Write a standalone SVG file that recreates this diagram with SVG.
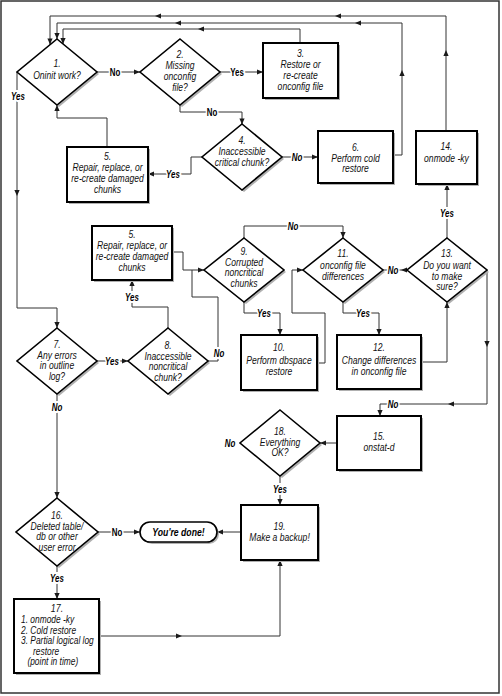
<svg xmlns="http://www.w3.org/2000/svg" xmlns:xlink="http://www.w3.org/1999/xlink" width="502" height="696" viewBox="0 0 502 696">
<style>
.frame{fill:#fff;stroke:#333;stroke-width:1.5}
.box{fill:#fff;stroke:#000;stroke-width:2}
.dia{fill:#fff;stroke:#000;stroke-width:1.6}
.sh{fill:#b0b0b0;stroke:none}
.c{fill:none;stroke:#333;stroke-width:1}
.ah{fill:#1a1a1a}
.t{font-family:"Liberation Sans",Arial,sans-serif;font-style:italic;font-size:11px;text-anchor:middle;fill:#111}
.tl{font-family:"Liberation Sans",Arial,sans-serif;font-style:italic;font-size:10.5px;text-anchor:start;fill:#111}
.l{font-family:"Liberation Sans",Arial,sans-serif;font-style:italic;font-weight:bold;font-size:11px;text-anchor:middle;fill:#000;stroke:#fff;stroke-width:4;paint-order:stroke}
.lu{font-family:"Liberation Sans",Arial,sans-serif;font-weight:bold;font-size:11px;text-anchor:middle;fill:#000;stroke:#fff;stroke-width:4;paint-order:stroke}
.done{font-family:"Liberation Sans",Arial,sans-serif;font-style:italic;font-weight:bold;font-size:11px;text-anchor:middle;fill:#000}
</style>
<defs>
<path id="a" class="ah" d="M0 0 L-6 -2.6 L-6 2.6 Z"/>
</defs>
<rect class="frame" x="1" y="1" width="498" height="692"/>

<!-- connectors -->
<g id="connectors">
<path class="c" d="M446 131 V16 H50 V44.5"/>
<use xlink:href="#a" transform="translate(50 44.5) rotate(90)"/>
<use xlink:href="#a" transform="translate(446 50) rotate(-90)"/>
<use xlink:href="#a" transform="translate(335 16) rotate(180)"/>
<use xlink:href="#a" transform="translate(155 16) rotate(180)"/>

<path class="c" d="M393 155 H402 V23 H57 V39"/>
<use xlink:href="#a" transform="translate(57 39) rotate(90)"/>
<use xlink:href="#a" transform="translate(402 70) rotate(-90)"/>
<use xlink:href="#a" transform="translate(355 23) rotate(180)"/>
<use xlink:href="#a" transform="translate(175 23) rotate(180)"/>

<path class="c" d="M300 43 V29 H63 V44"/>
<use xlink:href="#a" transform="translate(63 44) rotate(90)"/>
<use xlink:href="#a" transform="translate(198 29) rotate(180)"/>

<path class="c" d="M97 72 H140"/>
<use xlink:href="#a" transform="translate(140 72)"/>
<text class="lu" transform="translate(115 76) scale(.72 1)">No</text>

<path class="c" d="M220 72 H263"/>
<use xlink:href="#a" transform="translate(263 72)"/>
<text class="lu" transform="translate(237 76) scale(.72 1)">Yes</text>

<path class="c" d="M180 105 V112 H242 V124.5"/>
<use xlink:href="#a" transform="translate(242 124.5) rotate(90)"/>
<text class="lu" transform="translate(212 116) scale(.72 1)">No</text>

<path class="c" d="M282 157 H318"/>
<use xlink:href="#a" transform="translate(318 157)"/>
<text class="l" transform="translate(297 161) scale(.72 1)">No</text>

<path class="c" d="M202 157 H191 V174 H148"/>
<use xlink:href="#a" transform="translate(148 174) rotate(180)"/>
<text class="l" transform="translate(173 178) scale(.72 1)">Yes</text>

<path class="c" d="M107 147 V118 H57 V105"/>
<use xlink:href="#a" transform="translate(57 105) rotate(-90)"/>

<path class="c" d="M17 72 V308 H57 V328"/>
<use xlink:href="#a" transform="translate(57 328) rotate(90)"/>
<use xlink:href="#a" transform="translate(17 196) rotate(90)"/>
<text class="l" transform="translate(18 100) scale(.72 1)">Yes</text>

<path class="c" d="M97 361 H128"/>
<use xlink:href="#a" transform="translate(128 361)"/>
<text class="l" transform="translate(112 365) scale(.72 1)">Yes</text>

<path class="c" d="M168 328 V307 H132 V280"/>
<use xlink:href="#a" transform="translate(132 280) rotate(-90)"/>
<text class="l" transform="translate(132 301) scale(.72 1)">Yes</text>

<path class="c" d="M172 252 H183 V270 H204"/>
<use xlink:href="#a" transform="translate(204 270)"/>

<path class="c" d="M208 361 H218 V297 H192 V270"/>
<text class="l" transform="translate(219 357) scale(.72 1)">No</text>

<path class="c" d="M244 238 V226 H343 V238"/>
<use xlink:href="#a" transform="translate(343 238) rotate(90)"/>
<text class="l" transform="translate(293 230) scale(.72 1)">No</text>

<path class="c" d="M244 302 V313 H280 V335"/>
<use xlink:href="#a" transform="translate(280 335) rotate(90)"/>
<text class="l" transform="translate(264 317) scale(.72 1)">Yes</text>

<path class="c" d="M317 363 H325 V313 H292 V270 H303"/>
<use xlink:href="#a" transform="translate(303 270)"/>

<path class="c" d="M343 302 V313 H379 V335"/>
<use xlink:href="#a" transform="translate(379 335) rotate(90)"/>
<text class="l" transform="translate(363 317) scale(.72 1)">Yes</text>

<path class="c" d="M421 362 H447 V302"/>
<use xlink:href="#a" transform="translate(447 302) rotate(-90)"/>

<path class="c" d="M407 270 H383"/>
<use xlink:href="#a" transform="translate(401 270) rotate(180)"/>
<text class="l" transform="translate(393 274) scale(.72 1)">No</text>

<path class="c" d="M447 238 V184"/>
<use xlink:href="#a" transform="translate(447 184) rotate(-90)"/>
<text class="l" transform="translate(447 217) scale(.72 1)">Yes</text>

<path class="c" d="M487 270 V404 H380 V416"/>
<use xlink:href="#a" transform="translate(380 416) rotate(90)"/>
<use xlink:href="#a" transform="translate(487 347) rotate(90)"/>
<use xlink:href="#a" transform="translate(448 404) rotate(180)"/>
<text class="l" transform="translate(393 408) scale(.72 1)">No</text>

<path class="c" d="M337 443 H320"/>
<use xlink:href="#a" transform="translate(320 443) rotate(180)"/>

<text class="l" transform="translate(230 447) scale(.72 1)">No</text>

<path class="c" d="M280 476 V505"/>
<use xlink:href="#a" transform="translate(280 505) rotate(90)"/>
<text class="l" transform="translate(280 493) scale(.72 1)">Yes</text>

<path class="c" d="M241 532 H217"/>
<use xlink:href="#a" transform="translate(217 532) rotate(180)"/>

<path class="c" d="M98 532 H140"/>
<use xlink:href="#a" transform="translate(140 532)"/>
<text class="lu" transform="translate(117 536) scale(.72 1)">No</text>

<path class="c" d="M57 394 V498"/>
<use xlink:href="#a" transform="translate(57 498) rotate(90)"/>
<text class="l" transform="translate(57 411) scale(.72 1)">No</text>

<path class="c" d="M57 566 V599"/>
<use xlink:href="#a" transform="translate(57 599) rotate(90)"/>
<text class="l" transform="translate(57 582) scale(.72 1)">Yes</text>

<path class="c" d="M99 636 H280 V560"/>
<use xlink:href="#a" transform="translate(280 560) rotate(-90)"/>
<use xlink:href="#a" transform="translate(182 636)"/>
</g>

<!-- nodes -->
<g id="n1">
<polygon class="sh" points="59,41 99,74 59,107 19,74"/>
<polygon class="dia" points="57,39 97,72 57,105 17,72"/>
<g transform="translate(57 0) scale(.78 1)"><text class="t"><tspan x="0" y="67">1.</tspan><tspan x="0" y="79">Oninit work?</tspan></text></g>
</g>
<g id="n2">
<polygon class="sh" points="182,41 222,74 182,107 142,74"/>
<polygon class="dia" points="180,39 220,72 180,105 140,72"/>
<g transform="translate(180 0) scale(.78 1)"><text class="t"><tspan x="0" y="58.5">2.</tspan><tspan x="0" y="69.3">Missing</tspan><tspan x="0" y="80.1">onconfig</tspan><tspan x="0" y="91.5">file?</tspan></text></g>
</g>
<g id="n3">
<rect class="sh" x="265" y="45" width="75" height="55"/>
<rect class="box" x="263" y="43" width="75" height="55"/>
<g transform="translate(300.5 0) scale(.78 1)"><text class="t"><tspan x="0" y="57.5">3.</tspan><tspan x="0" y="68.2">Restore or</tspan><tspan x="0" y="78.9">re-create</tspan><tspan x="0" y="89.6">onconfig file</tspan></text></g>
</g>
<g id="n4">
<polygon class="sh" points="244,126 284,159 244,192 204,159"/>
<polygon class="dia" points="242,124 282,157 242,190 202,157"/>
<g transform="translate(242 0) scale(.78 1)"><text class="t"><tspan x="0" y="144">4.</tspan><tspan x="0" y="155">Inaccessible</tspan><tspan x="0" y="166">critical chunk?</tspan></text></g>
</g>
<g id="n5a">
<rect class="sh" x="69" y="149" width="81" height="55"/>
<rect class="box" x="67" y="147" width="81" height="55"/>
<g transform="translate(107.5 0) scale(.78 1)"><text class="t"><tspan x="0" y="160.5">5.</tspan><tspan x="0" y="171.2">Repair, replace, or</tspan><tspan x="0" y="181.9">re-create damaged</tspan><tspan x="0" y="192.6">chunks</tspan></text></g>
</g>
<g id="n6">
<rect class="sh" x="320" y="133" width="75" height="52"/>
<rect class="box" x="318" y="131" width="75" height="52"/>
<g transform="translate(355.5 0) scale(.78 1)"><text class="t"><tspan x="0" y="151">6.</tspan><tspan x="0" y="161.7">Perform cold</tspan><tspan x="0" y="172.4">restore</tspan></text></g>
</g>
<g id="n14">
<rect class="sh" x="418" y="133" width="61" height="53"/>
<rect class="box" x="416" y="131" width="61" height="53"/>
<g transform="translate(446.5 0) scale(.78 1)"><text class="t"><tspan x="0" y="150">14.</tspan><tspan x="0" y="162">onmode -ky</tspan></text></g>
</g>
<g id="n5b">
<rect class="sh" x="94" y="228" width="80" height="54"/>
<rect class="box" x="92" y="226" width="80" height="54"/>
<g transform="translate(132 0) scale(.78 1)"><text class="t"><tspan x="0" y="238.5">5.</tspan><tspan x="0" y="249.2">Repair, replace, or</tspan><tspan x="0" y="259.9">re-create damaged</tspan><tspan x="0" y="270.6">chunks</tspan></text></g>
</g>
<g id="n9">
<polygon class="sh" points="246,240 286,272 246,304 206,272"/>
<polygon class="dia" points="244,238 284,270 244,302 204,270"/>
<g transform="translate(244 0) scale(.78 1)"><text class="t"><tspan x="0" y="255">9.</tspan><tspan x="0" y="265.7">Corrupted</tspan><tspan x="0" y="276.4">noncritical</tspan><tspan x="0" y="287.1">chunks</tspan></text></g>
</g>
<g id="n11">
<polygon class="sh" points="345,240 385,272 345,304 305,272"/>
<polygon class="dia" points="343,238 383,270 343,302 303,270"/>
<g transform="translate(343 0) scale(.78 1)"><text class="t"><tspan x="0" y="257.5">11.</tspan><tspan x="0" y="269">onconfig file</tspan><tspan x="0" y="279.7">differences</tspan></text></g>
</g>
<g id="n13">
<polygon class="sh" points="449,240 489,272 449,304 409,272"/>
<polygon class="dia" points="447,238 487,270 447,302 407,270"/>
<g transform="translate(447 0) scale(.78 1)"><text class="t"><tspan x="0" y="257.5">13.</tspan><tspan x="0" y="269">Do you want</tspan><tspan x="0" y="279.7">to make</tspan><tspan x="0" y="290.4">sure?</tspan></text></g>
</g>
<g id="n7">
<polygon class="sh" points="59,330 99,363 59,396 19,363"/>
<polygon class="dia" points="57,328 97,361 57,394 17,361"/>
<g transform="translate(57 0) scale(.78 1)"><text class="t"><tspan x="0" y="348">7.</tspan><tspan x="0" y="358.7">Any errors</tspan><tspan x="0" y="369.4">in outline</tspan><tspan x="0" y="380.1">log?</tspan></text></g>
</g>
<g id="n8">
<polygon class="sh" points="170,330 210,363 170,396 130,363"/>
<polygon class="dia" points="168,328 208,361 168,394 128,361"/>
<g transform="translate(168 0) scale(.78 1)"><text class="t"><tspan x="0" y="349">8.</tspan><tspan x="0" y="359.7">Inaccessible</tspan><tspan x="0" y="370.4">noncritical</tspan><tspan x="0" y="381.1">chunk?</tspan></text></g>
</g>
<g id="n10">
<rect class="sh" x="243" y="337" width="76" height="55"/>
<rect class="box" x="241" y="335" width="76" height="55"/>
<g transform="translate(279 0) scale(.78 1)"><text class="t"><tspan x="0" y="351">10.</tspan><tspan x="0" y="364.5">Perform dbspace</tspan><tspan x="0" y="375.5">restore</tspan></text></g>
</g>
<g id="n12">
<rect class="sh" x="339" y="337" width="84" height="54"/>
<rect class="box" x="337" y="335" width="84" height="54"/>
<g transform="translate(379 0) scale(.78 1)"><text class="t"><tspan x="0" y="351">12.</tspan><tspan x="0" y="364.5">Change differences</tspan><tspan x="0" y="375.5">in onconfig file</tspan></text></g>
</g>
<g id="n15">
<rect class="sh" x="339" y="418" width="84" height="54"/>
<rect class="box" x="337" y="416" width="84" height="54"/>
<g transform="translate(379 0) scale(.78 1)"><text class="t"><tspan x="0" y="440">15.</tspan><tspan x="0" y="451">onstat-d</tspan></text></g>
</g>
<g id="n18">
<polygon class="sh" points="282,412 322,445 282,478 242,445"/>
<polygon class="dia" points="280,410 320,443 280,476 240,443"/>
<g transform="translate(280 0) scale(.78 1)"><text class="t"><tspan x="0" y="435">18.</tspan><tspan x="0" y="445.7">Everything</tspan><tspan x="0" y="456.4">OK?</tspan></text></g>
</g>
<g id="n19">
<rect class="sh" x="243" y="507" width="77" height="55"/>
<rect class="box" x="241" y="505" width="77" height="55"/>
<g transform="translate(279.5 0) scale(.78 1)"><text class="t"><tspan x="0" y="530">19.</tspan><tspan x="0" y="541">Make a backup!</tspan></text></g>
</g>
<g id="done">
<rect class="sh" x="142" y="524" width="77" height="20" rx="10"/>
<rect class="box" x="140" y="522" width="77" height="20" rx="10" style="stroke-width:1.6"/>
<text class="done" transform="translate(178.5 536) scale(.79 1)">You're done!</text>
</g>
<g id="n16">
<polygon class="sh" points="59,500 100,534 59,568 18,534"/>
<polygon class="dia" points="57,498 98,532 57,566 16,532"/>
<g transform="translate(57 0) scale(.78 1)"><text class="t"><tspan x="0" y="519">16.</tspan><tspan x="0" y="529.7">Deleted table/</tspan><tspan x="0" y="540.4">db or other</tspan><tspan x="0" y="551.1">user error</tspan></text></g>
</g>
<g id="n17">
<rect class="sh" x="16" y="601" width="85" height="74"/>
<rect class="box" x="14" y="599" width="85" height="74"/>
<g transform="translate(21 0) scale(.8 1)"><text class="t"><tspan x="45" y="612">17.</tspan></text><text class="tl"><tspan x="0" y="623">1. onmode -ky</tspan><tspan x="0" y="633.6">2. Cold restore</tspan><tspan x="0" y="644.2">3. Partial logical log</tspan><tspan x="15" y="654.8">restore</tspan><tspan x="8" y="665.4">(point in time)</tspan></text></g>
</g>
</svg>
